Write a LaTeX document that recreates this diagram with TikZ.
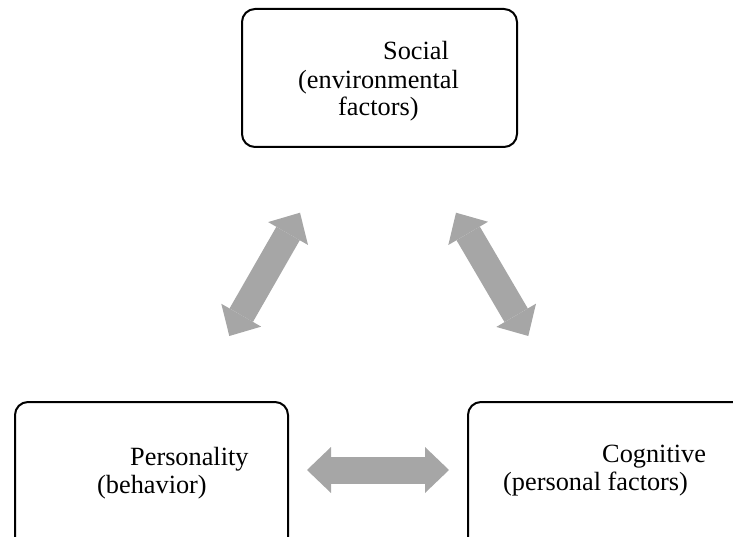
\documentclass[tikz,border=0pt]{standalone}
\usepackage{fontspec}
\setmainfont{Liberation Serif}
\usetikzlibrary{arrows.meta}
\definecolor{arrowgray}{HTML}{A6A6A6}
\tikzset{
  factorbox/.style={draw=black, line width=2pt, rounded corners=13pt},
  label/.style={anchor=base west, inner sep=0pt, font=\fontsize{26.3pt}{30pt}\selectfont},
  link/.style={draw=arrowgray, line width=27pt,
    {Triangle[length=24pt,width=46pt,line width=0pt]}-{Triangle[length=24pt,width=46pt,line width=0pt]}}
}
\begin{document}
\begin{tikzpicture}[x=1pt,y=-1pt]
  \useasboundingbox (0,0) rectangle (733,537);
  \clip (0,0) rectangle (733,537);

  % the three factor boxes (the lower two run past the page edge)
  \draw[factorbox] (242,9) rectangle (517,147);
  \draw[factorbox] (15,402) rectangle (288,560);
  \draw[factorbox] (468,402) rectangle (750,560);

  % box texts
  \node[label] (soc1) at (383,60) {Social};
  \node[label] (soc2) at (298,89) {(environmental};
  \node[label] (soc3) at (338,116) {factors)};
  \node[label] (per1) at (130,465) {Personality};
  \node[label] (per2) at (97,493) {(behavior)};
  \node[label] (cog1) at (602,462) {Cognitive};
  \node[label] (cog2) at (503,490) {(personal factors)};

  % ends of the reciprocal arrows
  \coordinate (sl) at (300,212.7);
  \coordinate (pl) at (229.3,336);
  \coordinate (sr) at (456,212.7);
  \coordinate (cr) at (528.3,336);
  \coordinate (ph) at (307,470);
  \coordinate (ch) at (449,470);

  \draw[link] (pl) -- (sl);
  \draw[link] (sr) -- (cr);
  \draw[link] (ph) -- (ch);
\end{tikzpicture}
\end{document}
